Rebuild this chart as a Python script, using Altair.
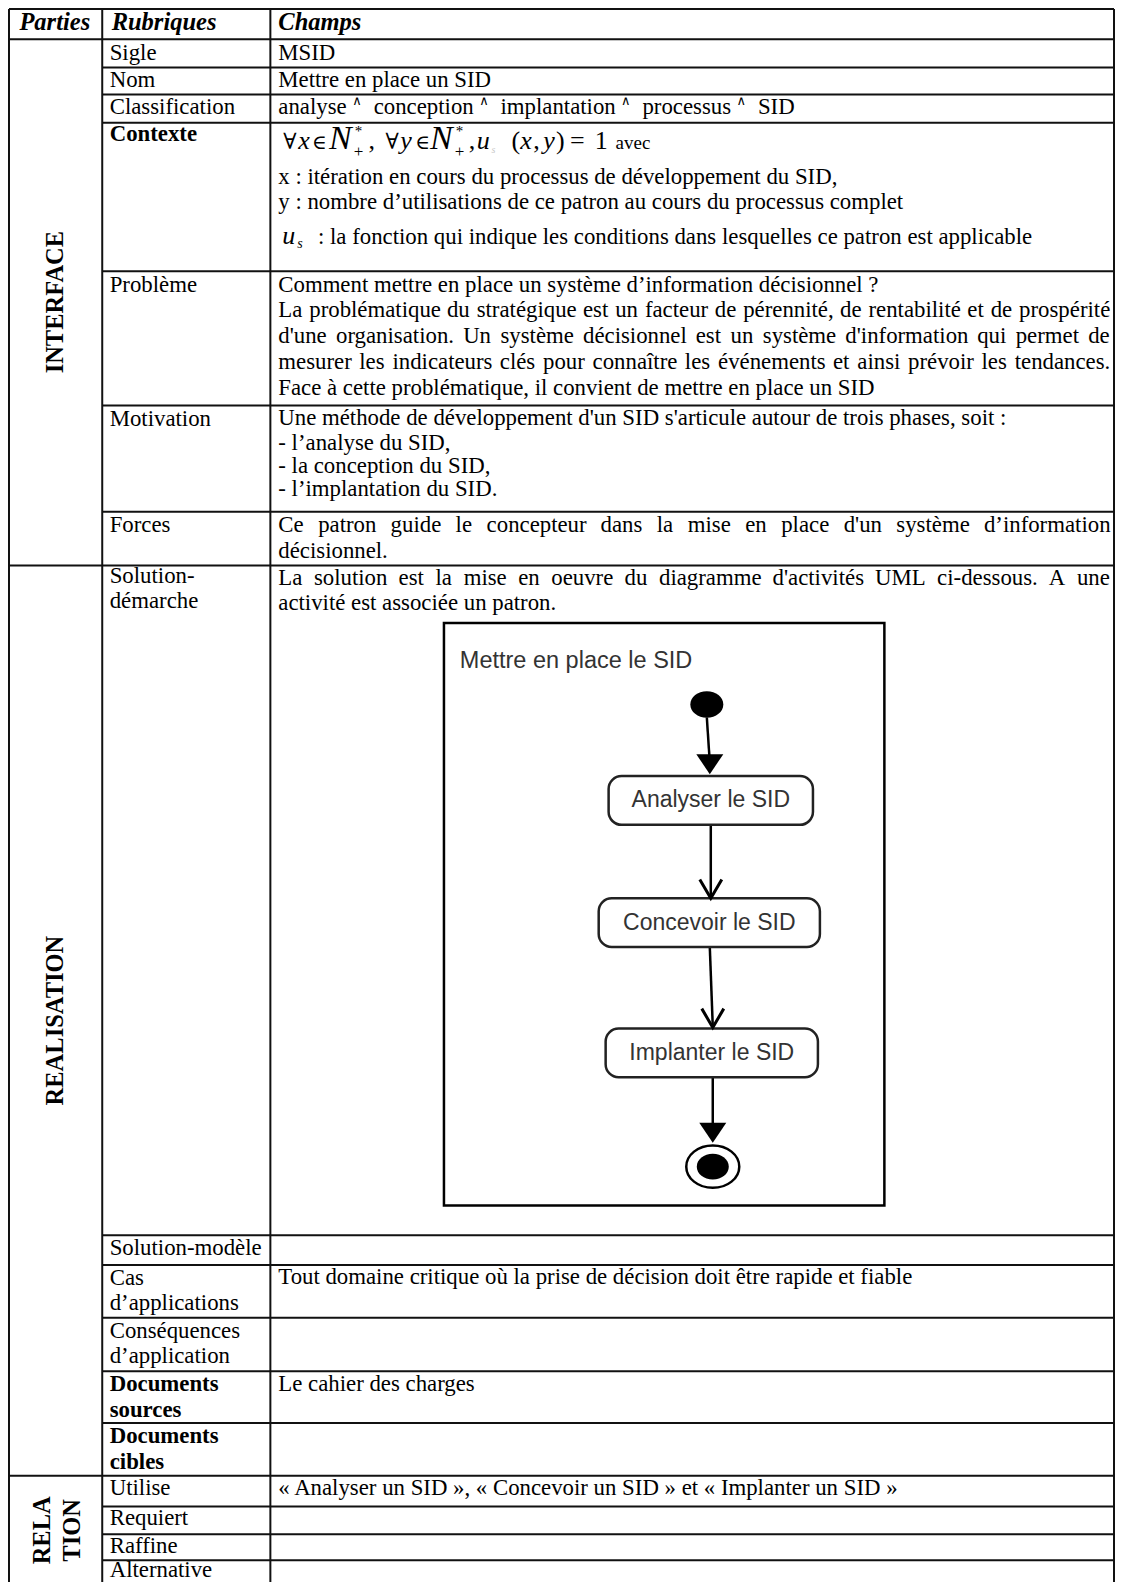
import altair as alt
import pandas as pd

SERIF = "Liberation Serif, Times New Roman, DejaVu Serif"
SANS = "Liberation Sans, Arial, DejaVu Sans"
FS = 22.8          # body font size
HFS = 24.5         # header / parts font size

# ---------------- table grid ----------------
COL_X = [6.5, 100.5, 270.0, 1120.5]
TABLE_TOP, TABLE_BOTTOM = 7.0, 1590.0
FULL_ROW_Y = [7.0, 37.5, 567.0, 1483.0]
SUB_ROW_Y = [66.0, 93.0, 121.5, 271.0, 406.0, 513.0, 1241.0, 1271.0,
             1324.0, 1378.0, 1430.0, 1514.0, 1542.0, 1568.0]

# ---------------- header ----------------
HEADER_TEXT = ["Parties", "Rubriques", "Champs"]
HEADER_X = [17, 110, 278]
HEADER_Y = 28

# ---------------- parties (vertical) ----------------
PART_TEXT = ["INTERFACE", "REALISATION", "RELA", "TION"]
PART_X = [54, 54, 41, 71]
PART_Y = [302, 1025, 1538, 1538]

# ---------------- rubriques ----------------
RUB_X = 108
RUB_TEXT = ["Sigle", "Nom", "Classification", "Contexte", "Problème", "Motivation",
            "Forces", "Solution-", "démarche", "Solution-modèle", "Cas",
            "d’applications", "Conséquences", "d’application", "Documents",
            "sources", "Documents", "cibles", "Utilise", "Requiert", "Raffine",
            "Alternative"]
RUB_Y = [58, 86, 113, 140, 291.5, 427, 533, 585, 610, 1261, 1291, 1316,
         1344, 1370, 1398, 1424, 1450, 1476, 1502, 1533, 1561, 1585]
RUB_BOLD = [0, 0, 0, 1, 0, 0, 0, 0, 0, 0, 0, 0, 0, 0, 1, 1, 1, 1, 0, 0, 0, 0]

# ---------------- champs ----------------
CH_LEFT, CH_RIGHT = 278, 1116
PLAIN_TEXT = [
    "MSID",
    "Mettre en place un SID",
    "x : itération en cours du processus de développement du SID,",
    "y : nombre d’utilisations de ce patron au cours du processus complet",
    "Comment mettre en place un système d’information décisionnel ?",
    "Face à cette problématique, il convient de mettre en place un SID",
    "Une méthode de développement d'un SID s'articule autour de trois phases, soit :",
    "- l’analyse du SID,",
    "- la conception du SID,",
    "- l’implantation du SID.",
    "décisionnel.",
    "activité est associée un patron.",
    "Tout domaine critique où la prise de décision doit être rapide et fiable",
    "Le cahier des charges",
    "« Analyser un SID », « Concevoir un SID » et « Implanter un SID »",
]
PLAIN_Y = [58, 86, 183, 208, 291.5, 395, 426, 451, 474, 497, 559, 612, 1290, 1398, 1502]

JUST_TEXT = [
    "La problématique du stratégique est un facteur de pérennité, de rentabilité et de prospérité",
    "d'une organisation. Un système décisionnel est un système d'information qui permet de",
    "mesurer les indicateurs clés pour connaître les événements et ainsi prévoir les tendances.",
    "Ce patron guide le concepteur dans la mise en place d'un système d’information",
    "La solution est la mise en oeuvre du diagramme d'activités UML ci-dessous. A une",
]
JUST_Y = [317, 343, 369, 533, 587]

CLASS_WORDS = ["analyse", "conception", "implantation", "processus", "SID"]
CLASS_Y = 113

# Contexte formula pieces: (text, x, size)
MATH_REG = [("∀", 283, 22), ("∈", 312, 20), (",", 369, 26), ("∀", 386, 22),
            ("∈", 416, 20), (",", 470, 26), ("(", 513, 26), (",", 535, 26),
            (")", 558, 26), ("=", 572, 26), ("1", 597, 26)]
MATH_IT = [("x", 298, 26), ("N", 329, 34), ("y", 401, 26), ("N", 431, 34),
           ("u", 478, 26), ("x", 522, 26), ("y", 545, 26)]
FORMULA_Y = 148
SCRIPT_X = [354, 456]
AVEC = ("avec", 618)
US_LINE = ("u", 282, 243, ": la fonction qui indique les conditions dans lesquelles ce patron est applicable", 318)

# ---------------- activity diagram ----------------
FRAME = [445, 889, 625, 1211]
DIAG_TITLE = ("Mettre en place le SID", 461, 670)
BOX_TEXT = ["Analyser le SID", "Concevoir le SID", "Implanter le SID"]
BOX_X1 = [611, 601, 608]
BOX_X2 = [817, 824, 822]
BOX_Y1 = [779, 902, 1033]
BOX_Y2 = [828, 951, 1082]
START_NODE = (710, 707, 33)
END_NODE = (716, 1172, 53, 32)
EDGE_X1 = [710, 714, 713, 716]
EDGE_Y1 = [720, 828, 951, 1082]
EDGE_X2 = [713, 714, 716, 716]
EDGE_Y2 = [765, 901, 1031, 1136]
FILLED_HEAD_X = [713, 716]
FILLED_HEAD_TIP = [777, 1148]
OPEN_HEAD_X = [714, 716]
OPEN_HEAD_TIP = [902, 1032]

# ---------------- metrics (Times / Liberation Serif, per 1000 em) -------------
W = {" ": 250, "!": 333, "'": 180, "’": 333, "(": 333, ")": 333, ",": 250, "-": 333,
     ".": 250, ":": 278, "?": 444, "«": 500, "»": 500, "^": 469}
for ch, w in zip("ABCDEFGHIJKLMNOPQRSTUVWXYZ",
                 [722, 667, 667, 722, 611, 556, 722, 722, 333, 389, 722, 611, 889,
                  722, 722, 556, 722, 667, 556, 611, 722, 722, 944, 722, 722, 611]):
    W[ch] = w
for ch, w in zip("abcdefghijklmnopqrstuvwxyz",
                 [444, 500, 444, 500, 444, 333, 500, 500, 278, 278, 500, 278, 778,
                  500, 500, 500, 500, 333, 389, 278, 500, 500, 722, 500, 500, 444]):
    W[ch] = w
for ch in "àâéèêëç":
    W[ch] = 444
for ch in "îï":
    W[ch] = 278
for ch in "ôùû":
    W[ch] = 500


def tw(s, fs=FS):
    return sum(W.get(c, 500) for c in s) * fs / 1000.0


# ---------------- build tables ----------------
rules = []
for y in FULL_ROW_Y:
    rules.append(dict(x=COL_X[0], x2=COL_X[-1], y=y, y2=y))
for y in SUB_ROW_Y:
    rules.append(dict(x=COL_X[1], x2=COL_X[-1], y=y, y2=y))
for x in COL_X:
    rules.append(dict(x=x, x2=x, y=TABLE_TOP, y2=TABLE_BOTTOM))
df_rules = pd.DataFrame(rules)

df_header = pd.DataFrame(dict(t=HEADER_TEXT, x=HEADER_X, y=[HEADER_Y] * 3, s=[HFS] * 3))
df_part = pd.DataFrame(dict(t=PART_TEXT, x=PART_X, y=PART_Y, s=[HFS] * 4))
df_rub = pd.DataFrame(dict(t=RUB_TEXT, x=[RUB_X] * len(RUB_TEXT), y=RUB_Y, b=RUB_BOLD))
df_rub["s"] = FS
df_rub_reg = df_rub[df_rub.b == 0]
df_rub_bold = df_rub[df_rub.b == 1]

body = []
for t, y in zip(PLAIN_TEXT, PLAIN_Y):
    body.append(dict(t=t, x=CH_LEFT, y=y, s=FS))
for line, y in zip(JUST_TEXT, JUST_Y):
    words = line.split(" ")
    widths = [tw(w) for w in words]
    gap = (CH_RIGHT - CH_LEFT - sum(widths)) / (len(words) - 1)
    x = CH_LEFT
    for w, wd in zip(words, widths):
        body.append(dict(t=w, x=x, y=y, s=FS))
        x += wd + gap
# classification words with raised "∧"
carets = []
x = CH_LEFT
for i, w in enumerate(CLASS_WORDS):
    body.append(dict(t=w, x=x, y=CLASS_Y, s=FS))
    x += tw(w)
    if i < len(CLASS_WORDS) - 1:
        carets.append(dict(t="∧", x=x + tw(" ") + tw("^") / 2, y=CLASS_Y - 9, s=13))
        x += tw(" ^  ")
# formula regular pieces
for t, x, s in MATH_REG:
    body.append(dict(t=t, x=x, y=FORMULA_Y, s=s))
body.append(dict(t=AVEC[0], x=AVEC[1], y=FORMULA_Y, s=19))
for x in SCRIPT_X:
    body.append(dict(t="*", x=x + 1, y=FORMULA_Y - 13, s=15))
    body.append(dict(t="+", x=x, y=FORMULA_Y + 8, s=17))
body.append(dict(t=US_LINE[3], x=US_LINE[4], y=US_LINE[2], s=FS))
df_body = pd.DataFrame(body)
df_caret = pd.DataFrame(carets)

italic = [dict(t=t, x=x, y=FORMULA_Y, s=s, c="black") for t, x, s in MATH_IT]
italic.append(dict(t="s", x=493, y=FORMULA_Y + 4, s=10, c="#c8c8c8"))
italic.append(dict(t=US_LINE[0], x=US_LINE[1], y=US_LINE[2], s=26, c="black"))
italic.append(dict(t="s", x=US_LINE[1] + 15, y=US_LINE[2] + 5, s=14, c="black"))
df_italic = pd.DataFrame(italic)

df_frame = pd.DataFrame([dict(x=FRAME[0], x2=FRAME[1], y=FRAME[2], y2=FRAME[3])])
df_title = pd.DataFrame([dict(t=DIAG_TITLE[0], x=DIAG_TITLE[1], y=DIAG_TITLE[2])])
df_boxes = pd.DataFrame(dict(t=BOX_TEXT, x=BOX_X1, x2=BOX_X2, y=BOX_Y1, y2=BOX_Y2))
df_boxes["cx"] = (df_boxes.x + df_boxes.x2) / 2
df_boxes["cy"] = (df_boxes.y + df_boxes.y2) / 2
df_edges = pd.DataFrame(dict(x=EDGE_X1, y=EDGE_Y1, x2=EDGE_X2, y2=EDGE_Y2))
df_fhead = pd.DataFrame(dict(x=FILLED_HEAD_X, y=[t - 10 for t in FILLED_HEAD_TIP]))
df_ohead = pd.DataFrame(dict(x=OPEN_HEAD_X, y=[t - 9.5 for t in OPEN_HEAD_TIP]))
df_start = pd.DataFrame([dict(x=START_NODE[0], y=START_NODE[1], sz=START_NODE[2] ** 2)])
df_end_outer = pd.DataFrame([dict(x=END_NODE[0], y=END_NODE[1], sz=END_NODE[2] ** 2)])
df_end_inner = pd.DataFrame([dict(x=END_NODE[0], y=END_NODE[1], sz=END_NODE[3] ** 2)])

# ---------------- scales ----------------
XS = alt.Scale(domain=[5.5, 1121.5], nice=False, zero=False)
YS = alt.Scale(domain=[6.0, 1590.0], nice=False, zero=False, reverse=True)


def X(f="x"):
    return alt.X(f, type="quantitative", scale=XS, axis=None)


def Y(f="y"):
    return alt.Y(f, type="quantitative", scale=YS, axis=None)


def text_layer(df, baseline="alphabetic", **kw):
    return alt.Chart(df).mark_text(baseline=baseline, **kw).encode(
        x=X(), y=Y(), text="t:N", size=alt.Size("s:Q", scale=None, legend=None))


ELLIPSE = "M-1,0 A1,0.8 0 1,0 1,0 A1,0.8 0 1,0 -1,0 Z"
FHEAD = "M-1,-0.74 L1,-0.74 L0,0.74 Z"
OHEAD = "M-1,-0.86 L0,0.86 L1,-0.86"

layers = [
    alt.Chart(df_rules).mark_rule(color="#111", strokeWidth=2).encode(
        x=X(), x2="x2", y=Y(), y2="y2"),
    text_layer(df_header, font=SERIF, fontWeight="bold", fontStyle="italic",
               align="left", color="black"),
    text_layer(df_part, baseline="middle", font=SERIF, fontWeight="bold",
               align="center", angle=270, color="black"),
    text_layer(df_rub_reg, font=SERIF, align="left", color="black"),
    text_layer(df_rub_bold, font=SERIF, fontWeight="bold", align="left", color="black"),
    text_layer(df_body, font=SERIF, align="left", color="black"),
    text_layer(df_caret, font="DejaVu Sans", align="center", color="black"),
    alt.Chart(df_italic).mark_text(font=SERIF, fontStyle="italic", align="left",
                                   baseline="alphabetic").encode(
        x=X(), y=Y(), text="t:N", size=alt.Size("s:Q", scale=None, legend=None),
        color=alt.Color("c:N", scale=None, legend=None)),
    # diagram
    alt.Chart(df_frame).mark_rect(fillOpacity=0, stroke="black", strokeWidth=2.5).encode(
        x=X(), x2="x2", y=Y(), y2="y2"),
    alt.Chart(df_title).mark_text(font=SANS, fontSize=23.5, align="left",
                                  baseline="alphabetic", color="#333").encode(
        x=X(), y=Y(), text="t:N"),
    alt.Chart(df_edges).mark_rule(color="black", strokeWidth=2.5).encode(
        x=X(), x2="x2", y=Y(), y2="y2"),
    alt.Chart(df_boxes).mark_rect(cornerRadius=13, fill="white", stroke="#222",
                                  strokeWidth=2.5).encode(
        x=X(), x2="x2", y=Y(), y2="y2"),
    alt.Chart(df_boxes).mark_text(font=SANS, fontSize=23, align="center",
                                  baseline="middle", color="#333").encode(
        x=X("cx"), y=Y("cy"), text="t:N"),
    alt.Chart(df_fhead).mark_point(shape=FHEAD, filled=True, color="black",
                                   opacity=1, size=729).encode(x=X(), y=Y()),
    alt.Chart(df_ohead).mark_point(shape=OHEAD, filled=False, color="black",
                                   opacity=1, strokeWidth=3, size=484).encode(x=X(), y=Y()),
    alt.Chart(df_start).mark_point(shape=ELLIPSE, filled=True, color="black",
                                   opacity=1).encode(
        x=X(), y=Y(), size=alt.Size("sz:Q", scale=None, legend=None)),
    alt.Chart(df_end_outer).mark_point(shape=ELLIPSE, filled=False, color="black",
                                       opacity=1, strokeWidth=2.5).encode(
        x=X(), y=Y(), size=alt.Size("sz:Q", scale=None, legend=None)),
    alt.Chart(df_end_inner).mark_point(shape=ELLIPSE, filled=True, color="black",
                                       opacity=1).encode(
        x=X(), y=Y(), size=alt.Size("sz:Q", scale=None, legend=None)),
]

chart = alt.layer(*layers).properties(
    width=1107, height=1574, padding=0,
    autosize=alt.AutoSizeParams(type="none"),
    background="white",
).configure_view(strokeWidth=0)

chart.save("out.html", embed_options={"renderer": "svg", "actions": False})
